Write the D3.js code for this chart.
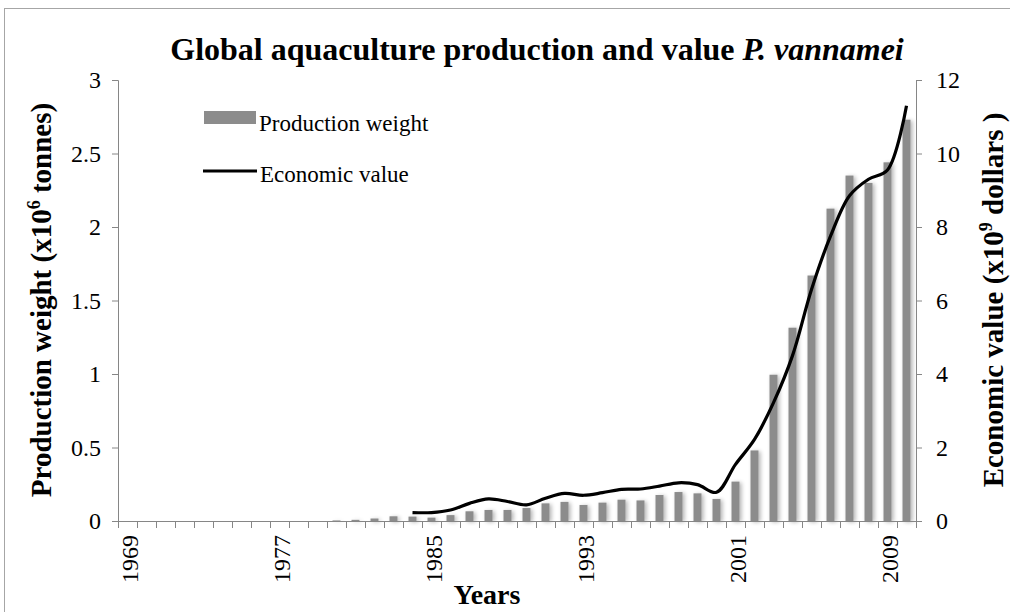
<!DOCTYPE html>
<html>
<head>
<meta charset="utf-8">
<title>P. vannamei production</title>
<script src="https://cdnjs.cloudflare.com/ajax/libs/d3/7.8.5/d3.min.js"></script>
<style>
  body { margin: 0; background: #fff; }
  text { font-family: "Liberation Serif", "Times New Roman", serif; fill: #000; }
</style>
</head>
<body>
<div id="chart"></div>
<script>
// years 1969 - 2010
const years = d3.range(1969, 2011);
// production weight, million tonnes
const weight = [0, 0, 0, 0, 0, 0, 0, 0, 0, 0, 0,
  0.004, 0.008, 0.017, 0.032, 0.030, 0.023, 0.040, 0.066, 0.075, 0.075,
  0.088, 0.120, 0.130, 0.109, 0.125, 0.145, 0.140, 0.177, 0.197, 0.188,
  0.150, 0.268, 0.480, 0.995, 1.315, 1.670, 2.125, 2.350, 2.300, 2.440, 2.730];
// economic value, billion dollars (1984 onward)
const valueYears = d3.range(1984, 2011);
const value = [0.23, 0.23, 0.30, 0.48, 0.60, 0.53, 0.44, 0.62, 0.75, 0.70,
  0.77, 0.86, 0.87, 0.95, 1.04, 0.99, 0.78, 1.54, 2.22, 3.22, 4.50, 6.30,
  7.75, 8.85, 9.30, 9.55, 11.30];
const leftTicks = [0, 0.5, 1, 1.5, 2, 2.5, 3];
const rightTicks = [0, 2, 4, 6, 8, 10, 12];
const labelYears = [1969, 1977, 1985, 1993, 2001, 2009];

const W = 1010, H = 612;
const pLeft = 118, pRight = 916, pTop = 80, pBottom = 521;
const axisColor = "#868686";

const svg = d3.select("#chart").append("svg")
  .attr("width", W).attr("height", H);

// soft shadow like the excel bars
const defs = svg.append("defs");
const f = defs.append("filter").attr("id", "shadow")
  .attr("x", "-60%").attr("y", "-10%").attr("width", "220%").attr("height", "120%");
f.append("feGaussianBlur").attr("in", "SourceAlpha").attr("stdDeviation", 2).attr("result", "b");
f.append("feOffset").attr("in", "b").attr("dx", 2).attr("dy", 1).attr("result", "o");
f.append("feComponentTransfer").attr("in", "o").attr("result", "s")
  .append("feFuncA").attr("type", "linear").attr("slope", 0.3);
const m = f.append("feMerge");
m.append("feMergeNode").attr("in", "s");
m.append("feMergeNode").attr("in", "SourceGraphic");

// outer frame
svg.append("rect")
  .attr("x", 4.5).attr("y", 8.5).attr("width", W + 10).attr("height", H + 10)
  .attr("fill", "none").attr("stroke", "#a6a6a6").attr("stroke-width", 1);

const x = d3.scaleBand().domain(years).range([pLeft, pRight]).paddingInner(0.58).paddingOuter(0.29);
const yL = d3.scaleLinear().domain([0, 3]).range([pBottom, pTop]);
const yR = d3.scaleLinear().domain([0, 12]).range([pBottom, pTop]);

// bars
svg.append("g").attr("filter", "url(#shadow)")
  .selectAll("rect").data(years.map((yr, i) => ({yr, v: weight[i]})).filter(d => d.v > 0))
  .enter().append("rect")
  .attr("x", d => x(d.yr))
  .attr("y", d => yL(d.v))
  .attr("width", x.bandwidth())
  .attr("height", d => pBottom - yL(d.v))
  .attr("fill", "#8c8c8c");

// left axis
const gL = svg.append("g").attr("transform", `translate(${pLeft},0)`)
  .call(d3.axisLeft(yL).tickValues(leftTicks).tickSize(6).tickPadding(11).tickFormat(d3.format("")));
// right axis
const gR = svg.append("g").attr("transform", `translate(${pRight},0)`)
  .call(d3.axisRight(yR).tickValues(rightTicks).tickSize(6).tickPadding(14));
[gL, gR].forEach(g => {
  g.select(".domain").attr("stroke", axisColor).attr("d",
    g === gL ? `M-6,${pTop + 0.5}H0.5V${pBottom + 0.5}H-6` : `M6,${pTop + 0.5}H0.5V${pBottom + 0.5}H6`);
  g.selectAll(".tick line").attr("stroke", axisColor);
  g.selectAll(".tick text").attr("font-size", 24).attr("font-family", "Liberation Serif");
});

// bottom axis: ticks between categories, labels every 8 years
const step = x.step();
const gB = svg.append("g").attr("transform", `translate(0,${pBottom})`);
gB.append("line").attr("x1", pLeft).attr("x2", pRight).attr("y1", 0.5).attr("y2", 0.5)
  .attr("stroke", axisColor);
gB.selectAll("line.tk").data(d3.range(years.length + 1)).enter().append("line")
  .attr("class", "tk")
  .attr("x1", i => Math.round(pLeft + i * step) + 0.5)
  .attr("x2", i => Math.round(pLeft + i * step) + 0.5)
  .attr("y1", 0).attr("y2", 7).attr("stroke", axisColor);
gB.selectAll("text").data(labelYears).enter().append("text")
  .attr("transform", d => `translate(${x(d) + x.bandwidth() / 2 + 10},14) rotate(-90)`)
  .attr("text-anchor", "end")
  .attr("font-size", 24)
  .text(d => d);

// value line
const line = d3.line()
  .x((d, i) => x(valueYears[i]) + x.bandwidth() / 2)
  .y(d => yR(d))
  .curve(d3.curveCatmullRom.alpha(0.5));
svg.append("path").datum(value)
  .attr("d", line).attr("fill", "none").attr("stroke", "#000").attr("stroke-width", 3.2);

// title
const t = svg.append("text").attr("x", 537).attr("y", 60).attr("text-anchor", "middle")
  .attr("font-size", 32).attr("font-weight", "bold");
t.append("tspan").text("Global aquaculture production and value ");
t.append("tspan").attr("font-style", "italic").text("P. vannamei");

// axis titles
const tl = svg.append("text").attr("transform", "translate(51,300) rotate(-90)")
  .attr("text-anchor", "middle").attr("font-size", 29).attr("font-weight", "bold");
tl.append("tspan").text("Production weight (x10");
tl.append("tspan").attr("font-size", 18).attr("dy", -11).text("6");
tl.append("tspan").attr("dy", 11).text(" tonnes)");

const tr = svg.append("text").attr("transform", "translate(1003,300) rotate(-90)")
  .attr("text-anchor", "middle").attr("font-size", 29).attr("font-weight", "bold");
tr.append("tspan").text("Economic value (x10");
tr.append("tspan").attr("font-size", 18).attr("dy", -11).text("9");
tr.append("tspan").attr("dy", 11).text(" dollars )");

svg.append("text").attr("x", 487).attr("y", 604).attr("text-anchor", "middle")
  .attr("font-size", 28).attr("font-weight", "bold").text("Years");

// legend
const lg = svg.append("g");
lg.append("rect").attr("x", 204).attr("y", 111).attr("width", 52).attr("height", 13)
  .attr("fill", "#8c8c8c");
lg.append("text").attr("x", 259).attr("y", 131).attr("font-size", 23).text("Production weight");
lg.append("line").attr("x1", 203).attr("x2", 257).attr("y1", 171).attr("y2", 171)
  .attr("stroke", "#000").attr("stroke-width", 3.2);
lg.append("text").attr("x", 260).attr("y", 182).attr("font-size", 23).text("Economic value");
</script>
</body>
</html>
